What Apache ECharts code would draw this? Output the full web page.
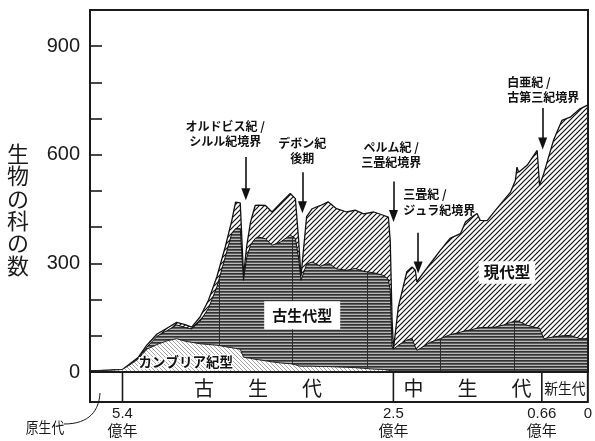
<!DOCTYPE html>
<html>
<head>
<meta charset="utf-8">
<script src="https://cdn.jsdelivr.net/npm/echarts@6/dist/echarts.min.js"></script>
<style>
  html, body { margin: 0; padding: 0; background: #fff; }
  #chart { width: 595px; height: 441px; }
</style>
</head>
<body>
<div id="chart"></div>
<script>
// Sample ages, in millions of years before present
const TIME_MA = [575, 553, 540, 532, 523, 514, 503, 492.5, 482, 473, 466, 457, 448, 439, 430, 423, 419, 414, 410.5, 407,
  403, 398, 394.5, 387, 380, 371, 360.5, 355, 351.5, 349, 343, 337, 328, 320, 311, 300, 291, 282, 271, 261,
  255.5, 253.5, 251.5, 250, 244, 233.5, 227, 223, 221, 217, 204.5, 192, 180, 167, 161, 153, 146.5, 142.5, 134, 124,
  113.5, 105, 99, 97, 95, 84.5, 72, 69, 63.5, 49.5, 37.5, 25.5, 11.5, 0];

// Number of marine families in each evolutionary fauna
const CAMBRIAN_FAUNA = [3, 5, 7, 20, 36, 63, 76, 86, 92, 85, 82, 78, 76, 74, 70, 67, 65, 63, 41, 39,
  38, 35, 34, 31, 28, 25, 23, 20, 17, 16, 16, 16, 15, 15, 14, 13, 12, 10, 8, 7,
  5, 3, 2, 2, 2, 2, 2, 2, 2, 2, 2, 2, 2, 2, 2, 2, 2, 2, 2, 2,
  2, 2, 2, 2, 2, 2, 2, 2, 2, 2, 2, 2, 2, 2];
const PALEOZOIC_FAUNA = [0, 0, 0, 1, 3, 5, 23, 28, 38, 38, 37, 62, 100, 161, 248, 316, 331, 333, 212, 278,
  312, 334, 339, 337, 322, 334, 355, 349, 297, 237, 282, 288, 277, 287, 271, 268, 274, 268, 266, 260,
  251, 222, 67, 61, 72, 86, 91, 67, 58, 63, 80, 90, 101, 108, 112, 115, 119, 121, 121, 122,
  128, 135, 139, 141, 138, 127, 120, 119, 90, 95, 98, 99, 90, 90];
const MODERN_FAUNA = [0, 0, 0, 2, 2, 6, 6, 7, 7, 8, 5, 12, 22, 28, 28, 36, 73, 71, 14, 32,
  64, 91, 88, 92, 92, 107, 115, 110, 50, 11, 131, 147, 168, 168, 166, 161, 161, 159, 168, 166,
  172, 138, 74, 1, 106, 189, 197, 212, 189, 197, 217, 244, 266, 272, 300, 311, 317, 296, 295, 322,
  344, 360, 388, 423, 412, 442, 490, 395, 456, 543, 595, 603, 635, 646];
const FAUNA_NAMES = ['カンブリア紀型', '古生代型', '現代型'];

// Axes
const Y_TICK_LABELS = [0, 300, 600, 900];
const X_TICK_MA = [540, 250, 66, 0];
const X_TICK_LABELS = ['5.4\n億年', '2.5\n億年', '0.66\n億年', '0'];

// Eras shown in the band under the plot (bounds in Ma)
const ERA_BOUNDS_MA = [575, 540, 250, 66, 0];
const ERA_NAMES = ['', '古生代', '中生代', '新生代'];
const PRECAMBRIAN_NAME = '原生代';

// Period boundaries marked inside the Paleozoic fauna
const PERIOD_LINES_MA = [437, 358.5, 278.5, 192, 100];

// Mass extinctions: label, age, arrow start and arrow tip (families)
const EVENT_NAMES = ['オルドビス紀 /\nシルル紀境界', 'デボン紀\n後期', 'ペルム紀 /\n三畳紀境界', '三畳紀 /\nジュラ紀境界', '白亜紀 /\n古第三紀境界'];
const EVENT_MA = [408, 347.5, 250, 219.5, 65];
const EVENT_FROM = [594, 552, 526, 385, 729];
const EVENT_TIP = [475, 439, 415, 273, 615];

// ---- layout: the time axis is stretched per era ----
const ERA_DISPLAY_WIDTH = [32.5, 271, 148.5, 46];
const AXIS_SPAN = ERA_DISPLAY_WIDTH.reduce((a, b) => a + b, 0);
function timeToAxis(ma) {
  let start = 0;
  for (let i = 0; i < ERA_DISPLAY_WIDTH.length; i++) {
    const a = ERA_BOUNDS_MA[i], b = ERA_BOUNDS_MA[i + 1];
    if (ma >= b || i === ERA_DISPLAY_WIDTH.length - 1) {
      return start + (a - ma) / (a - b) * ERA_DISPLAY_WIDTH[i];
    }
    start += ERA_DISPLAY_WIDTH[i];
  }
  return AXIS_SPAN;
}
function valueAt(series, ma) {
  for (let i = 0; i < TIME_MA.length - 1; i++) {
    const a = TIME_MA[i], b = TIME_MA[i + 1];
    if (ma <= a && ma >= b) {
      const f = (a - ma) / (a - b);
      return series[i] + f * (series[i + 1] - series[i]);
    }
  }
  return series[series.length - 1];
}

// Cumulative tops of the three faunas (drawn back to front)
const TOP_CAMBRIAN = CAMBRIAN_FAUNA.slice();
const TOP_PALEOZOIC = CAMBRIAN_FAUNA.map((c, i) => c + PALEOZOIC_FAUNA[i]);
const TOP_TOTAL = TOP_PALEOZOIC.map((p, i) => p + MODERN_FAUNA[i]);
const xy = arr => TIME_MA.map((t, i) => [timeToAxis(t), arr[i]]);

// ---- fill patterns ----
function tile(w, h, paint) {
  const c = document.createElement('canvas');
  c.width = w; c.height = h;
  paint(c.getContext('2d'), w, h);
  return c;
}
const paleozoicFill = tile(4, 3, (g, w, h) => {
  g.fillStyle = '#b8b8b8'; g.fillRect(0, 0, w, h);
  g.fillStyle = '#333333'; g.fillRect(0, 0, w, 1);
  g.fillStyle = '#5c5c5c'; g.fillRect(0, 1, w, 1);
});
const modernFill = tile(5, 5, (g, w, h) => {
  g.fillStyle = '#fff'; g.fillRect(0, 0, w, h);
  g.strokeStyle = '#111'; g.lineWidth = 1.2;
  g.beginPath();
  g.moveTo(-1, h + 1); g.lineTo(w + 1, -1);
  g.moveTo(-1, 1); g.lineTo(1, -1);
  g.moveTo(w - 1, h + 1); g.lineTo(w + 1, h - 1);
  g.stroke();
});
const cambrianFill = tile(4, 4, (g, w, h) => {
  g.fillStyle = '#fff'; g.fillRect(0, 0, w, h);
  g.strokeStyle = '#8e8e8e'; g.lineWidth = 0.8;
  g.beginPath();
  g.moveTo(-1, -1); g.lineTo(w + 1, h + 1);
  g.moveTo(w - 1, -1); g.lineTo(w + 1, 1);
  g.moveTo(-1, h - 1); g.lineTo(1, h + 1);
  g.stroke();
});

const JP = "'Noto Sans CJK JP', 'Noto Sans', sans-serif";
const FRAME = '#1a1a1a';

const chart = echarts.init(document.getElementById('chart'), null, { renderer: 'canvas' });

const areaBase = {
  type: 'line', symbol: 'none', showSymbol: false,
  xAxisIndex: 0, yAxisIndex: 0, silent: true, animation: false
};

const periodLines = PERIOD_LINES_MA.map(t => [
  { coord: [timeToAxis(t), valueAt(TOP_CAMBRIAN, t)] },
  { coord: [timeToAxis(t), valueAt(TOP_PALEOZOIC, t)] }
]);

const eventArrows = EVENT_MA.map((t, i) => [
  { coord: [timeToAxis(t), EVENT_FROM[i]], symbol: 'none' },
  { coord: [timeToAxis(t), EVENT_TIP[i] + 16], symbol: 'triangle', symbolSize: [9, 12] }
]);

const textMark = (name, ma, v, label) => ({
  name, coord: [timeToAxis(ma), v], symbol: 'circle', symbolSize: 1,
  itemStyle: { color: 'rgba(0,0,0,0)' },
  label: Object.assign({ show: true, position: 'inside', formatter: name, color: '#111', fontFamily: JP, fontWeight: 'bold' }, label)
});
const eventLabel = { fontSize: 12, lineHeight: 15.5, verticalAlign: 'middle' };

const option = {
  animation: false,
  backgroundColor: '#fff',
  grid: [
    { left: 90, top: 10, width: 498, height: 362, show: true, borderColor: FRAME, borderWidth: 2, backgroundColor: 'transparent', containLabel: false, z: 10 },
    { left: 90, top: 372, width: 498, height: 30, show: true, borderColor: FRAME, borderWidth: 2, backgroundColor: 'transparent', containLabel: false }
  ],
  xAxis: [
    { gridIndex: 0, type: 'value', min: 0, max: AXIS_SPAN, show: false },
    {
      gridIndex: 1, type: 'value', min: 0, max: AXIS_SPAN,
      axisLine: { show: false }, axisTick: { show: false }, splitLine: { show: false },
      axisLabel: {
        customValues: X_TICK_MA.map(timeToAxis),
        showMinLabel: true, showMaxLabel: true,
        formatter: v => {
          const i = X_TICK_MA.findIndex(t => Math.abs(timeToAxis(t) - v) < 0.01);
          return i >= 0 ? X_TICK_LABELS[i] : '';
        },
        margin: 3, fontSize: 15, lineHeight: 18, color: '#1a1a1a',
        fontFamily: "'Liberation Sans Narrow', 'Liberation Sans', 'Noto Sans CJK JP', sans-serif"
      }
    }
  ],
  yAxis: [
    {
      gridIndex: 0, type: 'value', min: 0, max: 1000, interval: 100,
      axisLine: { show: false },
      axisTick: { show: true, inside: true, length: 12, lineStyle: { color: FRAME, width: 1.6 } },
      splitLine: { show: false },
      axisLabel: {
        formatter: v => (Y_TICK_LABELS.indexOf(v) >= 0 ? String(v) : ''),
        margin: 10, fontSize: 20, color: '#1a1a1a', fontFamily: "'Liberation Sans', Arial, sans-serif"
      }
    },
    { gridIndex: 1, type: 'value', min: 0, max: 1, show: false }
  ],
  series: [
    Object.assign({}, areaBase, {
      name: FAUNA_NAMES[2], data: xy(TOP_TOTAL), z: 2,
      lineStyle: { color: '#111', width: 1.3 },
      areaStyle: { color: { image: modernFill, repeat: 'repeat' }, opacity: 1 }
    }),
    Object.assign({}, areaBase, {
      name: FAUNA_NAMES[1], data: xy(TOP_PALEOZOIC), z: 3,
      lineStyle: { color: '#111', width: 1 },
      areaStyle: { color: { image: paleozoicFill, repeat: 'repeat' }, opacity: 1 },
      markLine: {
        silent: true, animation: false, symbol: ['none', 'none'],
        label: { show: false },
        lineStyle: { color: '#2a2a2a', width: 1, type: 'solid' },
        data: periodLines
      }
    }),
    Object.assign({}, areaBase, {
      name: FAUNA_NAMES[0], data: xy(TOP_CAMBRIAN), z: 4,
      lineStyle: { color: '#222', width: 1 },
      areaStyle: { color: { image: cambrianFill, repeat: 'repeat' }, opacity: 1 },
      markLine: {
        silent: true, animation: false, symbol: ['none', 'triangle'], z: 8,
        label: { show: false },
        lineStyle: { color: '#111', width: 1.6, type: 'solid' },
        itemStyle: { color: '#111' },
        data: eventArrows
      },
      markPoint: {
        silent: true, animation: false, z: 9,
        data: [
          textMark(FAUNA_NAMES[0], 472.4, 27.6, { fontSize: 13.5, textBorderColor: '#fff', textBorderWidth: 2.5 }),
          textMark(FAUNA_NAMES[1], 347.7, 156.6, { fontSize: 15, backgroundColor: '#fff', padding: [7, 8, 6, 8] }),
          textMark(FAUNA_NAMES[2], 109.4, 274.9, { fontSize: 15.5, backgroundColor: '#fff', padding: [4, 5, 3, 5] }),
          textMark(EVENT_NAMES[0], 430, 657, Object.assign({ align: 'center' }, eventLabel)),
          textMark(EVENT_NAMES[1], 347.7, 611, Object.assign({ align: 'center' }, eventLabel)),
          textMark(EVENT_NAMES[2], 252.5, 599, Object.assign({ align: 'center' }, eventLabel)),
          textMark(EVENT_NAMES[3], 238, 468.6, Object.assign({ align: 'left' }, eventLabel)),
          textMark(EVENT_NAMES[4], 109, 779, Object.assign({ align: 'left' }, eventLabel))
        ]
      }
    }),
    {
      type: 'custom', xAxisIndex: 1, yAxisIndex: 1, silent: true, clip: false, z: 5,
      data: [[1], [2], [3]],
      renderItem: (params, api) => {
        const i = api.value(0);
        const p0 = api.coord([timeToAxis(ERA_BOUNDS_MA[i]), 0]);
        const p1 = api.coord([timeToAxis(ERA_BOUNDS_MA[i + 1]), 1]);
        const top = p1[1], bottom = p0[1];
        const cx = (p0[0] + p1[0]) / 2, cy = (top + bottom) / 2;
        const children = [{
          type: 'line',
          shape: { x1: p0[0], y1: top, x2: p0[0], y2: bottom },
          style: { stroke: FRAME, lineWidth: 1.6 }
        }];
        const name = ERA_NAMES[i];
        if (p1[0] - p0[0] > 100) {
          const chars = name.split('');
          const gap = 54;
          chars.forEach((ch, k) => {
            children.push({
              type: 'text', x: cx + (k - (chars.length - 1) / 2) * gap, y: cy + 1,
              style: { text: ch, align: 'center', verticalAlign: 'middle', fontSize: 20, fontFamily: JP, fill: '#1a1a1a' }
            });
          });
        } else {
          children.push({
            type: 'text', x: cx, y: cy + 1, scaleX: 0.92,
            style: { text: name, align: 'center', verticalAlign: 'middle', fontSize: 15, fontFamily: JP, fill: '#1a1a1a' }
          });
        }
        return { type: 'group', children };
      }
    }
  ],
  graphic: [
    {
      type: 'text', x: 18, y: 209.5,
      style: { text: '生\n物\nの\n科\nの\n数', align: 'center', verticalAlign: 'middle', fontSize: 22, lineHeight: 22.3, fontFamily: JP, fill: '#1a1a1a' }
    },
    {
      type: 'text', x: 45, y: 427, scaleX: 0.85,
      style: { text: PRECAMBRIAN_NAME, align: 'center', verticalAlign: 'middle', fontSize: 15, fontFamily: JP, fill: '#1a1a1a' }
    },
    {
      type: 'bezierCurve',
      shape: { x1: 64, y1: 424, cpx1: 90, cpy1: 424, cpx2: 99, cpy2: 410, x2: 100, y2: 393 },
      style: { stroke: '#1a1a1a', lineWidth: 1, fill: null }
    }
  ]
};

chart.setOption(option);
</script>
</body>
</html>
